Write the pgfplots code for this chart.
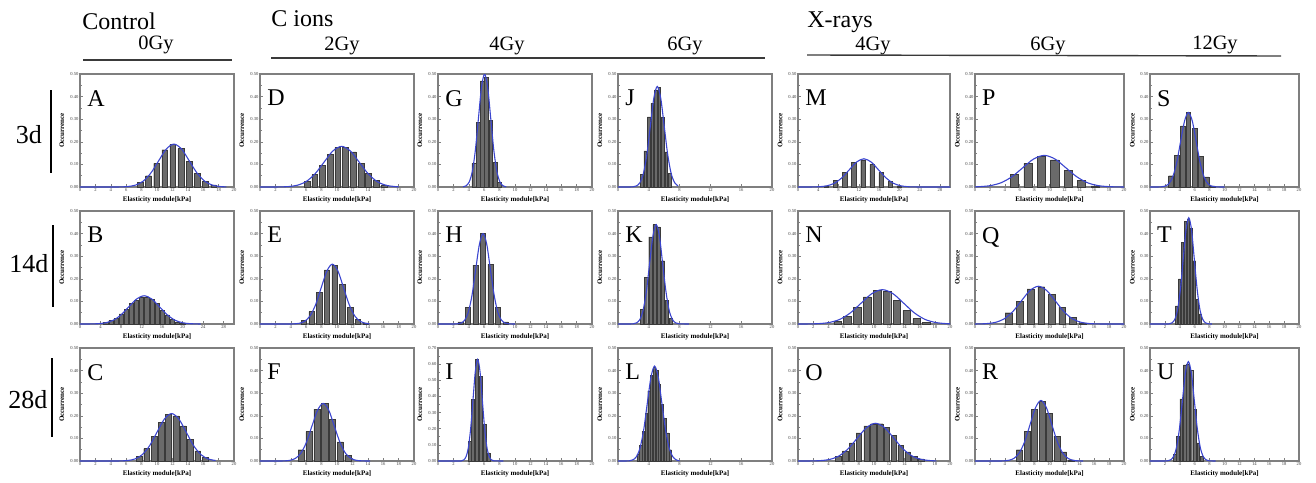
\documentclass[border=0pt]{standalone}
\usepackage{fontspec}
\setmainfont{Liberation Serif}
\usepackage{pgfplots}
\pgfplotsset{compat=1.18}
\definecolor{barfill}{HTML}{6A6A6A}
\definecolor{baredge}{HTML}{3A3A3A}
\definecolor{fitblue}{HTML}{3B45CF}
\definecolor{framegray}{HTML}{7F7F7F}
\definecolor{ticktext}{HTML}{404040}
\definecolor{hdrline}{HTML}{3A3A3A}

\pgfplotsset{
  panel/.style={
    scale only axis, anchor=north west, height=56.5pt, width=77pt,
    xmin=0, xmax=20, ymin=0, ymax=0.5,
    xtick={0,2,...,20}, ytick={0,0.1,0.2,0.3,0.4,0.5},
    minor y tick num=1,
    tick pos=left, tick align=inside,
    major tick length=1.5pt, minor tick length=0.9pt,
    axis line style={draw=framegray, line width=0.6pt},
    every tick/.style={draw=framegray, line width=0.3pt},
    tick label style={font=\fontsize{2.3}{2.6}\selectfont, text=ticktext},
    /pgf/number format/assume math mode=true,
    yticklabel style={/pgf/number format/fixed, /pgf/number format/fixed zerofill,
      /pgf/number format/precision=2, inner sep=0.6pt},
    xticklabel style={inner sep=0.6pt},
    xlabel={Elasticity module[kPa]}, ylabel={Occurrence},
    label style={font=\bfseries\fontsize{3.5}{4}\selectfont},
    xlabel style={at={(axis description cs:0.5,-0.115)}, anchor=center},
    ylabel style={at={(axis description cs:-0.118,0.5)}, anchor=center},
  },
  wide/.style={xmax=30, xtick={0,4,...,28}},
  coarse/.style={xtick={0,4,...,20}},
  bars/.style={ybar, bar shift=0pt, fill=barfill, draw=baredge, line width=0.2pt},
  fit/.style={smooth, color=fitblue, line width=0.55pt, mark=none},
}
\tikzset{
  letter/.style={anchor=north west, inner sep=0pt, font=\fontsize{12}{14}\selectfont},
  big/.style={inner sep=0pt, font=\fontsize{12}{14}\selectfont},
  dose/.style={inner sep=0pt, anchor=base, font=\fontsize{10.2}{12}\selectfont},
  day/.style={inner sep=0pt, anchor=base, font=\fontsize{13}{15}\selectfont},
}

\begin{document}
\begin{tikzpicture}
\useasboundingbox (0,0) rectangle (658pt,-241pt);

% headers
\node[big, anchor=base west] at (41pt,-14.5pt) {Control};
\node[dose] at (78pt,-24.5pt) {0Gy};
\draw[hdrline, line width=0.7pt] (41.5pt,-30pt) -- (116pt,-30pt);
\node[big, anchor=base west] at (135.5pt,-13pt) {C ions};
\node[dose] at (171pt,-25pt) {2Gy};
\node[dose] at (253.5pt,-25pt) {4Gy};
\node[dose] at (342.5pt,-25pt) {6Gy};
\draw[hdrline, line width=0.7pt] (135.5pt,-29pt) -- (382.5pt,-29pt);
\node[big, anchor=base west] at (403.5pt,-13.5pt) {X-rays};
\node[dose] at (436.5pt,-25pt) {4Gy};
\node[dose] at (524pt,-25pt) {6Gy};
\node[dose] at (607.5pt,-24.5pt) {12Gy};
\draw[hdrline, line width=0.7pt] (403.5pt,-27.5pt) -- (640.5pt,-28pt);

% row labels
\node[day] at (14.5pt,-71.5pt) {3d};
\draw[black, line width=0.6pt] (25.5pt,-45pt) -- (25.5pt,-86.5pt);
\node[day] at (14.5pt,-136pt) {14d};
\draw[black, line width=0.6pt] (26.5pt,-112.5pt) -- (26.5pt,-153.5pt);
\node[day] at (14pt,-204pt) {28d};
\draw[black, line width=0.6pt] (26pt,-179pt) -- (26pt,-218.5pt);

% ---------- Control 0Gy ----------
\begin{axis}[panel, at={(40pt,-37pt)}]
\addplot[bars, bar width=0.75] coordinates {
  (7.8,0.02) (8.9,0.05) (9.95,0.105) (11.0,0.165) (12.05,0.19) (13.1,0.17)
  (14.15,0.115) (15.2,0.06) (16.3,0.025) (17.35,0.01)};
\addplot[fit] coordinates {
  (0,0) (4.2,0) (5.2,0.0004) (6.2,0.0021) (7.2,0.0083) (8.2,0.0257) (9.2,0.0617)
  (10.2,0.1152) (11.2,0.1677) (12.2,0.19) (13.2,0.1677) (14.2,0.1152) (15.2,0.0617)
  (16.2,0.0257) (17.2,0.0083) (18.2,0.0021) (19,0.0005)};
\node[letter] at (rel axis cs:0.045,0.86) {A};
\end{axis}

\begin{axis}[panel, wide, at={(40pt,-105.5pt)}]
\addplot[bars, bar width=0.8] coordinates {
  (5,0.008) (6,0.015) (7,0.025) (8,0.045) (9,0.065) (10,0.09) (11,0.105) (12,0.12)
  (13,0.12) (14,0.11) (15,0.09) (16,0.06) (17,0.04) (18,0.022) (19,0.01) (20,0.005)};
\addplot[fit] coordinates {
  (0,0) (2.0,0.0003) (3.5,0.0014) (5.0,0.0055) (6.5,0.0169) (8.0,0.0406) (9.5,0.0758)
  (11.0,0.1103) (12.5,0.125) (14.0,0.1103) (15.5,0.0758) (17.0,0.0406) (18.5,0.0169)
  (20.0,0.0055) (21.5,0.0014) (23.0,0.0003) (23.5,0)};
\node[letter] at (rel axis cs:0.045,0.86) {B};
\end{axis}

\begin{axis}[panel, at={(40pt,-174pt)}]
\addplot[bars, bar width=0.75] coordinates {
  (7.7,0.02) (8.65,0.055) (9.6,0.11) (10.55,0.17) (11.5,0.205) (12.45,0.20)
  (13.4,0.155) (14.35,0.095) (15.3,0.045) (16.25,0.015)};
\addplot[fit] coordinates {
  (0,0) (4.3,0) (5.25,0.0005) (6.2,0.0023) (7.15,0.0092) (8.1,0.0284) (9.05,0.0682)
  (10.0,0.1274) (10.95,0.1853) (11.9,0.21) (12.85,0.1853) (13.8,0.1274) (14.75,0.0682)
  (15.7,0.0284) (16.65,0.0092) (17.6,0.0023)};
\node[letter] at (rel axis cs:0.045,0.86) {C};
\end{axis}

% ---------- C ions 2Gy ----------
\begin{axis}[panel, at={(130pt,-37pt)}]
\addplot[bars, bar width=0.75] coordinates {
  (6.1,0.025) (7.1,0.055) (8.1,0.095) (9.1,0.145) (10.1,0.175) (11.1,0.175)
  (12.1,0.155) (13.1,0.105) (14.1,0.06) (15.1,0.03) (16.1,0.01)};
\addplot[fit] coordinates {
  (0,0) (1.4,0) (2.55,0.0004) (3.7,0.002) (4.85,0.0079) (6.0,0.0244) (7.15,0.0584)
  (8.3,0.1092) (9.45,0.1589) (10.6,0.18) (11.75,0.1589) (12.9,0.1092) (14.05,0.0584)
  (15.2,0.0244) (16.35,0.0079) (17.5,0.002) (18,0.001)};
\node[letter] at (rel axis cs:0.045,0.86) {D};
\end{axis}

\begin{axis}[panel, at={(130pt,-105.5pt)}]
\addplot[bars, bar width=0.7] coordinates {
  (5.7,0.015) (6.7,0.055) (7.7,0.14) (8.7,0.24) (9.7,0.26) (10.7,0.175)
  (11.7,0.075) (12.7,0.02) (13.7,0.005)};
\addplot[fit] coordinates {
  (0,0) (3.6,0) (4.33,0.0006) (5.05,0.0029) (5.78,0.0116) (6.5,0.0359) (7.23,0.086)
  (7.95,0.1607) (8.68,0.2339) (9.4,0.265) (10.13,0.2339) (10.85,0.1607) (11.58,0.086)
  (12.3,0.0359) (13.03,0.0116) (13.75,0.0029) (14.2,0.001)};
\node[letter] at (rel axis cs:0.045,0.86) {E};
\end{axis}

\begin{axis}[panel, at={(130pt,-174pt)}]
\addplot[bars, bar width=0.8] coordinates {
  (5.35,0.05) (6.35,0.13) (7.4,0.23) (8.4,0.255) (9.4,0.185) (10.4,0.085) (11.4,0.025)};
\addplot[fit] coordinates {
  (0,0) (2.4,0) (3.13,0.0006) (3.85,0.0028) (4.58,0.0112) (5.3,0.0345) (6.03,0.0828)
  (6.75,0.1547) (7.48,0.225) (8.2,0.255) (8.93,0.225) (9.65,0.1547) (10.38,0.0828)
  (11.1,0.0345) (11.83,0.0112) (12.55,0.0028) (13.28,0.0006) (14.3,0)};
\node[letter] at (rel axis cs:0.045,0.86) {F};
\end{axis}

% ---------- C ions 4Gy ----------
\begin{axis}[panel, at={(219pt,-37pt)}]
\addplot[bars, bar width=0.5] coordinates {
  (4.65,0.105) (5.2,0.285) (5.75,0.47) (6.3,0.485) (6.85,0.295) (7.4,0.11) (7.95,0.02)};
\addplot[fit] coordinates {
  (3.25,0.0011) (3.65,0.0056) (4.05,0.022) (4.45,0.0677) (4.85,0.1624) (5.25,0.3033)
  (5.65,0.4413) (6.05,0.5) (6.45,0.4413) (6.85,0.3033) (7.25,0.1624) (7.65,0.0677)
  (8.05,0.022) (8.45,0.0056) (8.85,0.0011)};
\node[letter] at (rel axis cs:0.045,0.86) {G};
\end{axis}

\begin{axis}[panel, at={(219pt,-105.5pt)}]
\addplot[bars, bar width=0.65] coordinates {
  (2.9,0.01) (3.9,0.075) (4.85,0.26) (5.8,0.40) (6.8,0.265) (7.8,0.075) (8.8,0.01)};
\addplot[fit] coordinates {
  (0,0) (2.05,0) (2.53,0.0009) (3.0,0.0044) (3.48,0.0176) (3.95,0.0541) (4.43,0.1299)
  (4.9,0.2426) (5.38,0.353) (5.85,0.40) (6.33,0.353) (6.8,0.2426) (7.28,0.1299)
  (7.75,0.0541) (8.23,0.0176) (8.7,0.0044) (9.18,0.0009) (10,0)};
\node[letter] at (rel axis cs:0.045,0.86) {H};
\end{axis}

\begin{axis}[panel, at={(219pt,-174pt)}, ymax=0.7, ytick={0,0.1,0.2,0.3,0.4,0.5,0.6,0.7}]
\addplot[bars, bar width=0.4] coordinates {
  (4.1,0.12) (4.55,0.38) (5.05,0.63) (5.55,0.525) (6.05,0.225) (6.55,0.05)};
\addplot[fit] coordinates {
  (0,0) (2.75,0) (3.05,0.0014) (3.35,0.007) (3.65,0.0277) (3.95,0.0852) (4.25,0.2046)
  (4.55,0.3821) (4.85,0.556) (5.15,0.63) (5.45,0.556) (5.75,0.3821) (6.05,0.2046)
  (6.35,0.0852) (6.65,0.0277) (6.95,0.007) (7.25,0.0014) (8.5,0)};
\node[letter] at (rel axis cs:0.045,0.86) {I};
\end{axis}

% ---------- C ions 6Gy ----------
\begin{axis}[panel, coarse, at={(309pt,-37pt)}]
\addplot[bars, bar width=0.35] coordinates {
  (3.1,0.055) (3.55,0.16) (4.0,0.31) (4.45,0.37) (4.9,0.43) (5.35,0.44) (5.8,0.31)
  (6.25,0.155) (6.7,0.06)};
\addplot[fit] coordinates {
  (0,0) (1.5,0) (1.95,0.001) (2.4,0.0049) (2.85,0.0195) (3.3,0.0602) (3.75,0.1445)
  (4.2,0.2699) (4.65,0.3927) (5.1,0.445) (5.55,0.3927) (6.0,0.2699) (6.45,0.1445)
  (6.9,0.0602) (7.35,0.0195) (7.8,0.0049)};
\node[letter] at (rel axis cs:0.045,0.86) {J};
\end{axis}

\begin{axis}[panel, coarse, at={(309pt,-105.5pt)}]
\addplot[bars, bar width=0.42] coordinates {
  (3.1,0.065) (3.65,0.205) (4.2,0.385) (4.75,0.44) (5.25,0.43) (5.8,0.28)
  (6.3,0.105) (6.85,0.025)};
\addplot[fit] coordinates {
  (0,0) (1.55,0) (1.98,0.001) (2.4,0.0049) (2.83,0.0193) (3.25,0.0595) (3.68,0.1429)
  (4.1,0.2669) (4.53,0.3883) (4.95,0.44) (5.38,0.3883) (5.8,0.2669) (6.23,0.1429)
  (6.65,0.0595) (7.08,0.0193) (7.5,0.0049) (7.93,0.001) (9.2,0)};
\node[letter] at (rel axis cs:0.045,0.86) {K};
\end{axis}

\begin{axis}[panel, coarse, at={(309pt,-174pt)}]
\addplot[bars, bar width=0.28] coordinates {
  (2.6,0.03) (2.95,0.07) (3.3,0.13) (3.65,0.21) (4.0,0.31) (4.35,0.38) (4.7,0.415)
  (5.05,0.40) (5.4,0.34) (5.75,0.25) (6.1,0.19) (6.45,0.125) (6.8,0.05)};
\addplot[fit] coordinates {
  (0,0) (0.95,0) (1.43,0.0009) (1.9,0.0047) (2.38,0.0184) (2.85,0.0568) (3.33,0.1364)
  (3.8,0.2547) (4.28,0.3707) (4.75,0.42) (5.23,0.3707) (5.7,0.2547) (6.18,0.1364)
  (6.65,0.0568) (7.13,0.0184) (7.6,0.0047) (8.0,0.001)};
\node[letter] at (rel axis cs:0.045,0.86) {L};
\end{axis}

% ---------- X-rays 4Gy ----------
\begin{axis}[panel, wide, width=76pt, at={(399pt,-37pt)}]
\addplot[bars, bar width=0.85] coordinates {
  (5.6,0.005) (7.4,0.03) (9.2,0.065) (11.0,0.11) (12.8,0.12) (14.6,0.10)
  (16.4,0.065) (18.2,0.025) (20.0,0.005)};
\addplot[fit] coordinates {
  (0,0) (1.4,0) (2.85,0.0003) (4.3,0.0014) (5.75,0.0055) (7.2,0.0169) (8.65,0.0406)
  (10.1,0.0758) (11.55,0.1103) (13.0,0.125) (14.45,0.1103) (15.9,0.0758) (17.35,0.0406)
  (18.8,0.0169) (20.25,0.0055) (21.7,0.0014) (23.15,0.0003) (30,0)};
\node[letter] at (rel axis cs:0.045,0.86) {M};
\end{axis}

\begin{axis}[panel, width=76pt, at={(399pt,-105.5pt)}]
\addplot[bars, bar width=1.0] coordinates {
  (5.2,0.012) (6.5,0.035) (7.8,0.075) (9.1,0.12) (10.4,0.15) (11.7,0.145)
  (13.0,0.105) (14.3,0.06) (15.6,0.025) (16.9,0.008)};
\addplot[fit] coordinates {
  (0,0) (1.3,0.0003) (2.7,0.0017) (4.1,0.0067) (5.5,0.0206) (6.9,0.0494) (8.3,0.0922)
  (9.7,0.1341) (11.1,0.152) (12.5,0.1341) (13.9,0.0922) (15.3,0.0494) (16.7,0.0206)
  (18.1,0.0067) (19.5,0.0017) (20,0.001)};
\node[letter] at (rel axis cs:0.045,0.86) {N};
\end{axis}

\begin{axis}[panel, width=76pt, at={(399pt,-174pt)}]
\addplot[bars, bar width=0.7] coordinates {
  (5.3,0.02) (6.2,0.045) (7.1,0.08) (8.0,0.125) (9.0,0.155) (9.9,0.165) (10.8,0.165)
  (11.7,0.15) (12.6,0.115) (13.5,0.07) (14.4,0.04) (15.3,0.02) (16.2,0.01)};
\addplot[fit] coordinates {
  (0,0) (0.6,0) (1.8,0.0004) (3.0,0.0019) (4.2,0.0073) (5.4,0.0226) (6.6,0.0542)
  (7.8,0.1013) (9.0,0.1474) (10.2,0.167) (11.4,0.1474) (12.6,0.1013) (13.8,0.0542)
  (15.0,0.0226) (16.2,0.0073) (17.4,0.0019) (18.2,0.0005)};
\node[letter] at (rel axis cs:0.045,0.86) {O};
\end{axis}

% ---------- X-rays 6Gy ----------
\begin{axis}[panel, width=74.5pt, at={(487.5pt,-37pt)}]
\addplot[bars, bar width=1.1] coordinates {
  (5.3,0.055) (7.1,0.105) (8.9,0.135) (10.7,0.12) (12.5,0.075) (14.3,0.03) (16.1,0.005)};
\addplot[fit] coordinates {
  (0,0.0008) (0.6,0.0016) (2.05,0.0061) (3.5,0.0189) (4.95,0.0455) (6.4,0.0849)
  (7.85,0.1236) (9.3,0.14) (10.75,0.1236) (12.2,0.0849) (13.65,0.0455) (15.1,0.0189)
  (16.55,0.0061) (18.0,0.0016) (19.45,0.0003) (20,0.0002)};
\node[letter] at (rel axis cs:0.045,0.86) {P};
\end{axis}

\begin{axis}[panel, width=74.5pt, at={(487.5pt,-105.5pt)}]
\addplot[bars, bar width=0.9] coordinates {
  (4.5,0.05) (6.0,0.10) (7.45,0.155) (8.9,0.165) (10.3,0.13) (11.7,0.075)
  (13.1,0.03) (14.5,0.005)};
\addplot[fit] coordinates {
  (0,0.0002) (0.45,0.0004) (1.6,0.0019) (2.75,0.0073) (3.9,0.0226) (5.05,0.0542)
  (6.2,0.1013) (7.35,0.1474) (8.5,0.167) (9.65,0.1474) (10.8,0.1013) (11.95,0.0542)
  (13.1,0.0226) (14.25,0.0073) (15.4,0.0019) (16.55,0.0004) (17.7,0) (20,0)};
\node[letter] at (rel axis cs:0.045,0.86) {Q};
\end{axis}

\begin{axis}[panel, width=74.5pt, at={(487.5pt,-174pt)}]
\addplot[bars, bar width=0.8] coordinates {
  (5.95,0.05) (7.0,0.13) (8.0,0.23) (9.0,0.265) (10.0,0.21) (11.0,0.11)
  (11.9,0.04) (12.9,0.005)};
\addplot[fit] coordinates {
  (0,0) (3.05,0) (3.78,0.0006) (4.5,0.003) (5.23,0.0118) (5.95,0.0363) (6.68,0.087)
  (7.4,0.1625) (8.13,0.2365) (8.85,0.268) (9.58,0.2365) (10.3,0.1625) (11.03,0.087)
  (11.75,0.0363) (12.48,0.0118) (13.2,0.003) (13.93,0.0006) (14.5,0)};
\node[letter] at (rel axis cs:0.045,0.86) {R};
\end{axis}

% ---------- X-rays 12Gy ----------
\begin{axis}[panel, width=74.5pt, at={(575pt,-37pt)}]
\addplot[bars, bar width=0.6] coordinates {
  (2.8,0.05) (3.6,0.14) (4.4,0.27) (5.15,0.33) (6.0,0.26) (6.8,0.135) (7.6,0.045) (8.4,0.005)};
\addplot[fit] coordinates {
  (0,0) (0.95,0) (1.48,0.0007) (2.0,0.0037) (2.53,0.0145) (3.05,0.0446) (3.58,0.1072)
  (4.1,0.2001) (4.63,0.2912) (5.15,0.33) (5.68,0.2912) (6.2,0.2001) (6.73,0.1072)
  (7.25,0.0446) (7.78,0.0145) (8.3,0.0037) (8.83,0.0007) (10,0)};
\node[letter] at (rel axis cs:0.045,0.86) {S};
\end{axis}

\begin{axis}[panel, width=74.5pt, at={(575pt,-105.5pt)}]
\addplot[bars, bar width=0.32] coordinates {
  (3.55,0.08) (3.95,0.2) (4.35,0.36) (4.75,0.455) (5.15,0.465) (5.55,0.425)
  (5.95,0.28) (6.35,0.11) (6.75,0.045)};
\addplot[fit] coordinates {
  (0,0) (2.2,0) (2.58,0.001) (2.95,0.0052) (3.33,0.0206) (3.7,0.0636) (4.08,0.1526)
  (4.45,0.2851) (4.83,0.4148) (5.2,0.47) (5.58,0.4148) (5.95,0.2851) (6.33,0.1526)
  (6.7,0.0636) (7.08,0.0206) (7.45,0.0052) (7.83,0.001) (8.3,0)};
\node[letter] at (rel axis cs:0.045,0.86) {T};
\end{axis}

\begin{axis}[panel, width=74.5pt, at={(575pt,-174pt)}]
\addplot[bars, bar width=0.36] coordinates {
  (3.3,0.03) (3.75,0.11) (4.2,0.275) (4.65,0.425) (5.1,0.43) (5.55,0.40)
  (6.0,0.23) (6.45,0.08) (6.9,0.02)};
\addplot[fit] coordinates {
  (0,0) (1.95,0) (2.35,0.001) (2.75,0.0049) (3.15,0.0193) (3.55,0.0595) (3.95,0.1429)
  (4.35,0.2669) (4.75,0.3883) (5.15,0.44) (5.55,0.3883) (5.95,0.2669) (6.35,0.1429)
  (6.75,0.0595) (7.15,0.0193) (7.55,0.0049) (7.95,0.001) (8.8,0)};
\node[letter] at (rel axis cs:0.045,0.86) {U};
\end{axis}

\end{tikzpicture}
\end{document}
